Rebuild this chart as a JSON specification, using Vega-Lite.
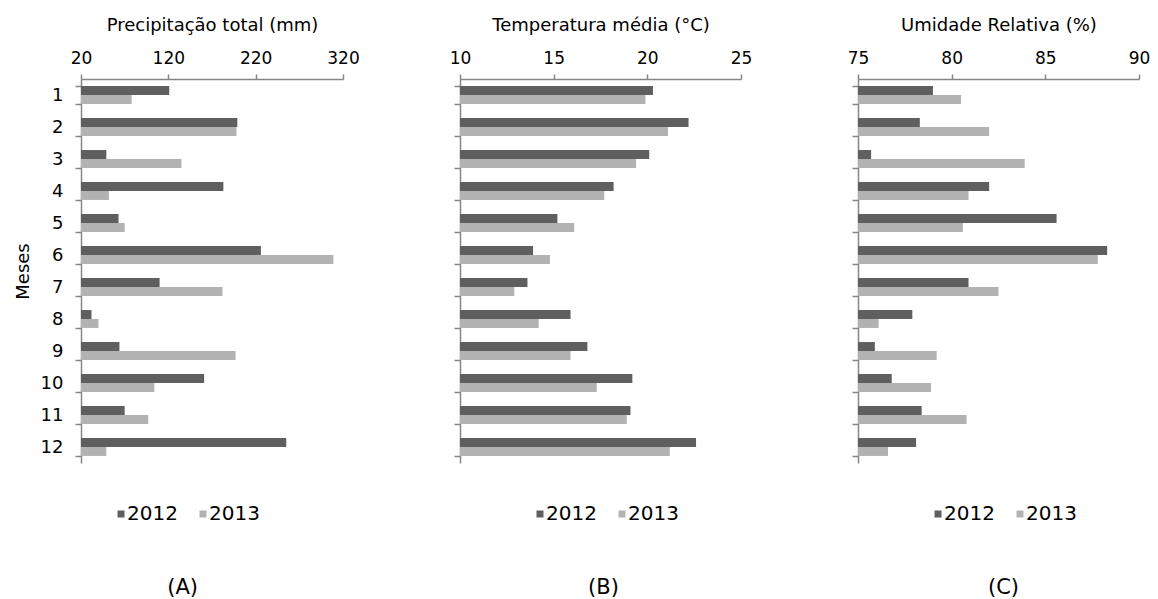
{
  "$schema": "https://vega.github.io/schema/vega-lite/v6.json",
  "background": "white",
  "padding": {"left": 14, "top": 16, "right": 5, "bottom": 0},
  "bounds": "flush",
  "spacing": 117,
  "config": {
    "font": "DejaVu Sans",
    "view": {"stroke": null},
    "axis": {
      "domainColor": "#868686", "tickColor": "#868686", "domainWidth": 1.5, "tickWidth": 1.5,
      "grid": false, "labelFont": "DejaVu Sans", "labelColor": "#000000", "titleFont": "DejaVu Sans",
      "titleFontSize": 18, "titleFontWeight": "normal", "titleColor": "#000000"
    },
    "axisX": {"labelFontSize": 17, "tickSize": 5, "labelPadding": 7, "titlePadding": 15, "labelFlush": false},
    "axisY": {"labelFontSize": 18, "tickSize": 6, "labelPadding": 12, "titlePadding": 8},
    "legend": {
      "symbolType": "square", "symbolSize": 49, "labelFontSize": 20, "labelFont": "DejaVu Sans",
      "labelColor": "#000000", "columnPadding": 15, "labelOffset": -4, "symbolStrokeWidth": 0
    },
    "title": {"font": "DejaVu Sans", "fontSize": 21, "fontWeight": "normal", "color": "#000000"}
  },
  "data": {"values": [
    {"month": 1, "year": "2012", "prec": 121, "temp": 20.3, "umid": 79.0},
    {"month": 1, "year": "2013", "prec": 78, "temp": 19.9, "umid": 80.5},
    {"month": 2, "year": "2012", "prec": 199, "temp": 22.2, "umid": 78.3},
    {"month": 2, "year": "2013", "prec": 198, "temp": 21.1, "umid": 82.0},
    {"month": 3, "year": "2012", "prec": 49, "temp": 20.1, "umid": 75.7},
    {"month": 3, "year": "2013", "prec": 135, "temp": 19.4, "umid": 83.9},
    {"month": 4, "year": "2012", "prec": 183, "temp": 18.2, "umid": 82.0},
    {"month": 4, "year": "2013", "prec": 52, "temp": 17.7, "umid": 80.9},
    {"month": 5, "year": "2012", "prec": 63, "temp": 15.2, "umid": 85.6},
    {"month": 5, "year": "2013", "prec": 70, "temp": 16.1, "umid": 80.6},
    {"month": 6, "year": "2012", "prec": 226, "temp": 13.9, "umid": 88.3},
    {"month": 6, "year": "2013", "prec": 309, "temp": 14.8, "umid": 87.8},
    {"month": 7, "year": "2012", "prec": 110, "temp": 13.6, "umid": 80.9},
    {"month": 7, "year": "2013", "prec": 182, "temp": 12.9, "umid": 82.5},
    {"month": 8, "year": "2012", "prec": 32, "temp": 15.9, "umid": 77.9},
    {"month": 8, "year": "2013", "prec": 40, "temp": 14.2, "umid": 76.1},
    {"month": 9, "year": "2012", "prec": 64, "temp": 16.8, "umid": 75.9},
    {"month": 9, "year": "2013", "prec": 197, "temp": 15.9, "umid": 79.2},
    {"month": 10, "year": "2012", "prec": 161, "temp": 19.2, "umid": 76.8},
    {"month": 10, "year": "2013", "prec": 104, "temp": 17.3, "umid": 78.9},
    {"month": 11, "year": "2012", "prec": 70, "temp": 19.1, "umid": 78.4},
    {"month": 11, "year": "2013", "prec": 97, "temp": 18.9, "umid": 80.8},
    {"month": 12, "year": "2012", "prec": 255, "temp": 22.6, "umid": 78.1},
    {"month": 12, "year": "2013", "prec": 49, "temp": 21.2, "umid": 76.6}
  ]},
  "resolve": {"scale": {"color": "independent"}, "legend": {"color": "independent"}},
  "hconcat": [
    {
      "width": 262, "height": 384,
      "title": {"text": "(A)", "orient": "bottom", "anchor": "middle", "frame": "bounds", "offset": 53, "dx": -4},
      "mark": {"type": "bar"},
      "encoding": {
        "y": {"field": "month", "type": "ordinal",
              "scale": {"domain": [1,2,3,4,5,6,7,8,9,10,11,12], "paddingInner": 0.44, "paddingOuter": 0.22},
              "axis": {"title": "Meses", "tickBand": "extent", "labelAngle": 0}},
        "yOffset": {"field": "year", "type": "nominal", "scale": {"domain": ["2012","2013"], "paddingInner": 0, "paddingOuter": 0}},
        "x": {"field": "prec", "type": "quantitative", "scale": {"domain": [20,320], "zero": false, "nice": false},
              "axis": {"orient": "top", "values": [20,120,220,320], "title": "Precipitação total (mm)"}},
        "x2": {"datum": 20},
        "color": {"field": "year", "type": "nominal", "scale": {"domain": ["2012","2013"], "range": ["#5f5f5f","#b2b2b2"]},
                  "legend": {"orient": "none", "legendX": 30, "legendY": 425, "direction": "horizontal", "title": null}}
      }
    },
    {
      "width": 281, "height": 384,
      "title": {"text": "(B)", "orient": "bottom", "anchor": "middle", "frame": "bounds", "offset": 53, "dx": 3},
      "mark": {"type": "bar"},
      "encoding": {
        "y": {"field": "month", "type": "ordinal",
              "scale": {"domain": [1,2,3,4,5,6,7,8,9,10,11,12], "paddingInner": 0.44, "paddingOuter": 0.22},
              "axis": {"title": null, "labels": false, "tickBand": "extent"}},
        "yOffset": {"field": "year", "type": "nominal", "scale": {"domain": ["2012","2013"], "paddingInner": 0, "paddingOuter": 0}},
        "x": {"field": "temp", "type": "quantitative", "scale": {"domain": [10,25], "zero": false, "nice": false},
              "axis": {"orient": "top", "values": [10,15,20,25], "title": "Temperatura média (°C)"}},
        "x2": {"datum": 10},
        "color": {"field": "year", "type": "nominal", "scale": {"domain": ["2012","2013"], "range": ["#5f5f5f","#b2b2b2"]},
                  "legend": {"orient": "none", "legendX": 70, "legendY": 425, "direction": "horizontal", "title": null}}
      }
    },
    {
      "width": 281, "height": 384,
      "title": {"text": "(C)", "orient": "bottom", "anchor": "middle", "frame": "bounds", "offset": 53, "dx": 5},
      "mark": {"type": "bar"},
      "encoding": {
        "y": {"field": "month", "type": "ordinal",
              "scale": {"domain": [1,2,3,4,5,6,7,8,9,10,11,12], "paddingInner": 0.44, "paddingOuter": 0.22},
              "axis": {"title": null, "labels": false, "tickBand": "extent"}},
        "yOffset": {"field": "year", "type": "nominal", "scale": {"domain": ["2012","2013"], "paddingInner": 0, "paddingOuter": 0}},
        "x": {"field": "umid", "type": "quantitative", "scale": {"domain": [75,90], "zero": false, "nice": false},
              "axis": {"orient": "top", "values": [75,80,85,90], "title": "Umidade Relativa (%)"}},
        "x2": {"datum": 75},
        "color": {"field": "year", "type": "nominal", "scale": {"domain": ["2012","2013"], "range": ["#5f5f5f","#b2b2b2"]},
                  "legend": {"orient": "none", "legendX": 70, "legendY": 425, "direction": "horizontal", "title": null}}
      }
    }
  ]
}
